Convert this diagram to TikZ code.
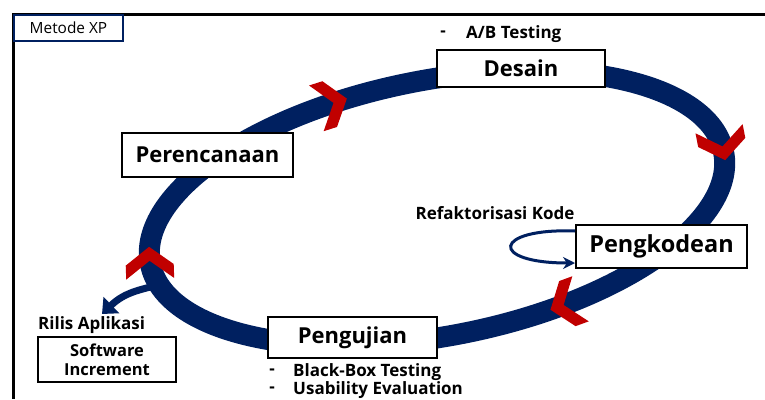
\documentclass[tikz,border=0pt]{standalone}
\usepackage{fontspec}
\setmainfont{Open Sans}
\usetikzlibrary{arrows.meta}
\definecolor{navy}{HTML}{002060}
\definecolor{xred}{HTML}{C00000}
\begin{document}
\begin{tikzpicture}[x=1pt,y=1pt,
  box/.style={draw=black, line width=2pt, fill=white, inner sep=0pt, font=\bfseries\fontsize{22}{26}\selectfont},
  lbl/.style={font=\bfseries\fontsize{17}{20}\selectfont, inner sep=0pt},
  chev/.style={fill=xred}]
\useasboundingbox (0,0) rectangle (765,-399);
\fill[white] (0,0) rectangle (765,-399);
% frame
\draw[line width=3pt] (765,-14) -- (13,-14) -- (13,-399);
\node[draw=navy, line width=1.5pt, fill=white, minimum width=109pt, minimum height=26pt, inner sep=0pt, font=\fontsize{15.4}{17}\selectfont] (metode) at (68.5,-28) {Metode XP};
% ring
\begin{scope}[shift={(437,-208)}, rotate=11]
  \draw[navy, line width=21pt] (0,0) ellipse [x radius=292, y radius=128];
  \foreach \t/\r in {0/-90, 105/6.7, 290/189, 176/81} {
    \fill[chev, shift={({292*cos(\t)},{128*sin(\t)})}, rotate=\r]
      (8,0) -- (-10,24) -- (-24,24) -- (-6,0) -- (-24,-24) -- (-10,-24) -- cycle;
  }
  \coordinate (relstart) at ({292*cos(190)},{128*sin(190)});
\end{scope}
\coordinate (relend) at (102,-314);
\draw[navy, line width=7pt, -{Triangle[width=22pt,length=13pt]}] (relstart) .. controls (140,-290) and (125,-292) .. (relend);
% boxes
\node[box, minimum width=168pt, minimum height=37pt] (desain) at (521,-68.5) {Desain};
\node[box, minimum width=171pt, minimum height=44pt] (peren) at (207.5,-155) {Perencanaan};
\node[box, minimum width=171pt, minimum height=43pt, font=\bfseries\fontsize{23.5}{26}\selectfont] (pengk) at (661.5,-246.5) {Pengkodean};
\node[box, minimum width=169pt, minimum height=41pt] (penguj) at (352.5,-337.5) {Pengujian};
\node[draw=black, line width=1.5pt, fill=white, minimum width=138pt, minimum height=45pt, inner sep=0pt, align=center, font=\bfseries\fontsize{16.5}{19}\selectfont] (soft) at (107,-359.5) {Software\\Increment};
% refactor loop
\draw[navy, line width=3pt, -{Stealth[length=12pt,width=12pt]}] ([yshift=-7pt]pengk.north west) .. controls (493,-228) and (488,-263) .. ([yshift=6pt]pengk.south west);
% labels
\node[lbl] (abd) at (443,-34) {-};
\node[lbl, anchor=west] (ab) at (466,-34) {A/B Testing};
\node[lbl] (refak) at (495,-213) {Refaktorisasi Kode};
\node[lbl, anchor=west] (rilis) at (38,-325) {Rilis Aplikasi};
\node[lbl] (bbd) at (272,-372) {-};
\node[lbl, anchor=west] (bb) at (293,-372) {Black-Box Testing};
\node[lbl] (usd) at (272,-390) {-};
\node[lbl, anchor=west] (us) at (293,-390) {Usability Evaluation};
\end{tikzpicture}
\end{document}
